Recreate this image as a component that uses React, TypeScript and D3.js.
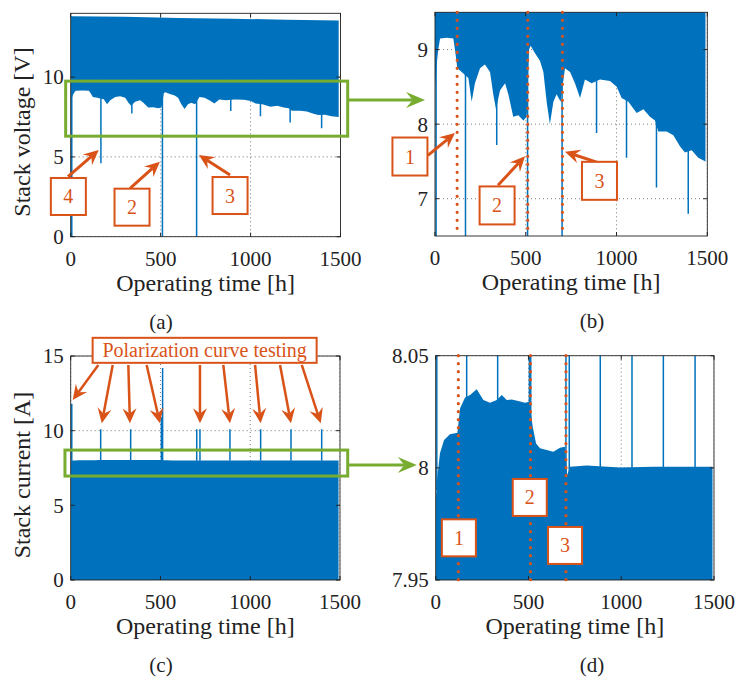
import React, { useRef, useEffect } from "react";
import * as d3 from "d3";

// ---- stack voltage, panels (a) and (b) ----
// lower edge of the dense voltage band [h] / [V]
const voltLowTime = [0, 9, 18, 28, 64, 101, 110, 123, 147, 165, 184, 202, 220, 248, 275, 303, 321, 336, 358, 386,
  404, 431, 459, 487, 505, 518, 527, 551, 578, 597, 615, 633, 652, 670, 692, 716, 744, 771, 799, 826,
  863, 909, 964, 1001, 1028, 1065, 1111, 1148, 1184, 1212, 1230, 1276, 1313, 1350, 1377, 1414, 1450, 1490];
const voltLow = [8.5, 8.79, 9.0, 9.15, 9.16, 9.15, 9.0, 8.75, 8.7, 8.66, 8.62, 8.3, 8.55, 8.75, 8.8, 8.7, 8.4, 8.2, 8.45, 8.55,
  8.4, 8.1, 8.12, 8.05, 8.1, 9.0, 9.05, 8.95, 8.85, 8.7, 8.3, 8.0, 8.3, 8.4, 8.3, 8.75, 8.7, 8.55, 8.35, 8.6,
  8.55, 8.6, 8.58, 8.5, 8.35, 8.3, 8.15, 8.2, 8.1, 8.05, 7.9, 7.9, 7.85, 7.7, 7.62, 7.65, 7.55, 7.5];
// upper edge of the band
const voltHighTime = [0, 300, 600, 900, 1200, 1490];
const voltHigh = [13.82, 13.78, 13.7, 13.66, 13.6, 13.55];
// single downward dips
const voltDipTime = [6, 168, 340, 510, 700, 890, 1055, 1220, 1395];
const voltDip = [0, 4.6, 7.72, 0, 0, 7.88, 7.55, 7.15, 6.8];

// ---- stack current, panels (c) and (d) ----
const currTopTime = [0, 9, 23, 45, 77, 117, 131, 158, 185, 221, 257, 293, 329, 356, 383, 409, 445, 481, 505, 523,
  541, 562, 598, 634, 670, 697, 709, 724, 814, 993, 1173, 1352, 1492];
const currTop = [7.986, 7.996, 8.0065, 8.0124, 8.015, 8.0157, 8.0265, 8.0314, 8.0325, 8.035, 8.0302, 8.029, 8.0302, 8.0325, 8.0302, 8.0305, 8.0298, 8.029, 8.0295, 8.0183,
  8.0109, 8.0087, 8.008, 8.0072, 8.009, 8.0094, 7.9968, 8.0005, 8.001, 8.0002, 8.0005, 8.0005, 8.0005];
// polarization curve peaks
const currPeakTime = [6, 167, 334, 505, 512, 702, 720, 887, 1058, 1227, 1398];
const currPeak = [11.8, 10.1, 10.1, 10.9, 14.2, 10.1, 10.1, 10.1, 10.1, 10.1, 10.1];

// events 1..3 (dotted lines)
const eventTime = [122, 511, 702];
const timeTicks = [0, 500, 1000, 1500];

// ---- annotations, in data units of their panel ----
const boxLabelsA = ["4", "2", "3"];
const boxCentersA = [[-13, 2.52], [341, 1.85], [886, 2.58]];
const arrowsA = [[[-15, 3.76], [156, 5.43]], [[330, 3.03], [496, 4.7]], [[886, 3.87], [713, 5.12]]];
const boxLabelsB = ["1", "2", "3"];
const boxCentersB = [[-138, 7.566], [342, 6.91], [906, 7.24]];
const arrowsB = [[[-39, 7.58], [110, 7.88]], [[347, 7.18], [496, 7.57]], [[903, 7.48], [716, 7.63]]];
const boxLabelsD = ["1", "2", "3"];
const boxCentersD = [[125, 7.9688], [507, 7.9868], [697, 7.9654]];
const polarLabel = "Polarization curve testing";
const polarCenter = [746, 15.38];
const polarStarts = [[154, 14.4], [234, 14.4], [321, 14.4], [423, 14.4], [720, 14.4], [850, 14.4], [1027, 14.4], [1166, 14.4], [1287, 14.4]];
const polarTips = [[11, 12.05], [173, 10.49], [330, 10.49], [497, 10.49], [720, 10.49], [887, 10.49], [1058, 10.49], [1227, 10.49], [1393, 10.49]];
const zoomBoxA = [[-28, 9.75], [1540, 6.3]];
const zoomBoxC = [[-32, 8.7], [1543, 6.96]];

const FONT = "'Liberation Serif', 'Times New Roman', serif";
const BLUE = "#0072BD";
const ORANGE = "#D95319";
const GREEN = "#77AC30";

const frames = {
  a: { left: 70.7, right: 340.5, top: 13.3, bottom: 236.7, yDomain: [0, 14], yTicks: [0, 5, 10], yLabel: "Stack voltage [V]", tag: "(a)" },
  b: { left: 435, right: 707.3, top: 12.3, bottom: 236, yDomain: [6.5, 9.5], yTicks: [7, 8, 9], yLabel: "", tag: "(b)" },
  c: { left: 70.7, right: 340, top: 356, bottom: 580, yDomain: [0, 15], yTicks: [0, 5, 10, 15], yLabel: "Stack current [A]", tag: "(c)" },
  d: { left: 435.7, right: 714, top: 355.7, bottom: 580, yDomain: [7.95, 8.05], yTicks: [7.95, 8, 8.05], yLabel: "", tag: "(d)" },
};

function arrow(g, x1, y1, x2, y2, color, w, len, half) {
  const a = Math.atan2(y2 - y1, x2 - x1);
  const c = Math.cos(a), s = Math.sin(a);
  const notch = len * 0.65;
  g.append("line").attr("x1", x1).attr("y1", y1)
    .attr("x2", x2 - c * notch).attr("y2", y2 - s * notch)
    .attr("stroke", color).attr("stroke-width", w);
  const pt = (along, side) => [x2 - c * along - s * side, y2 - s * along + c * side];
  const pts = [pt(0, 0), pt(len, half), pt(notch, 0), pt(len, -half)];
  g.append("polygon").attr("points", pts.map(p => p.join(",")).join(" ")).attr("fill", color);
}

function labelBox(g, cx, cy, w, h, text, size) {
  g.append("rect").attr("x", cx - w / 2).attr("y", cy - h / 2).attr("width", w).attr("height", h)
    .attr("fill", "white").attr("stroke", ORANGE).attr("stroke-width", 2);
  g.append("text").attr("x", cx).attr("y", cy).attr("text-anchor", "middle").attr("dy", "0.35em")
    .attr("font-family", FONT).attr("font-size", size).attr("fill", ORANGE).text(text);
}

function panel(svg, key) {
  const f = frames[key];
  const x = d3.scaleLinear().domain([0, 1500]).range([f.left, f.right]);
  const y = d3.scaleLinear().domain(f.yDomain).range([f.bottom, f.top]);
  const g = svg.append("g");
  svg.append("clipPath").attr("id", "clip-" + key).append("rect")
    .attr("x", f.left).attr("y", f.top).attr("width", f.right - f.left).attr("height", f.bottom - f.top);
  const plot = g.append("g").attr("clip-path", `url(#clip-${key})`);

  // dotted grid, beneath the data
  plot.selectAll(".gx").data(timeTicks).join("line")
    .attr("x1", d => x(d)).attr("x2", d => x(d)).attr("y1", f.top).attr("y2", f.bottom);
  plot.selectAll(".gy").data(f.yTicks).join("line")
    .attr("x1", f.left).attr("x2", f.right).attr("y1", d => y(d)).attr("y2", d => y(d));
  plot.selectAll("line").attr("stroke", "#555").attr("stroke-width", 0.8).attr("stroke-dasharray", "1 3");
  return { f, x, y, g, plot };
}

function frameUp(p) {
  const { f, x, y, g } = p;
  g.append("rect").attr("x", f.left).attr("y", f.top).attr("width", f.right - f.left).attr("height", f.bottom - f.top)
    .attr("fill", "none").attr("stroke", "#222").attr("stroke-width", 0.9);
  const t = 4;
  timeTicks.forEach(v => {
    g.append("line").attr("x1", x(v)).attr("x2", x(v)).attr("y1", f.bottom).attr("y2", f.bottom - t).attr("stroke", "#222");
    g.append("line").attr("x1", x(v)).attr("x2", x(v)).attr("y1", f.top).attr("y2", f.top + t).attr("stroke", "#222");
    g.append("text").attr("x", x(v)).attr("y", f.bottom + 29).attr("text-anchor", "middle")
      .attr("font-family", FONT).attr("font-size", 21).attr("fill", "#222").text(String(v));
  });
  f.yTicks.forEach(v => {
    g.append("line").attr("x1", f.left).attr("x2", f.left + t).attr("y1", y(v)).attr("y2", y(v)).attr("stroke", "#222");
    g.append("line").attr("x1", f.right).attr("x2", f.right - t).attr("y1", y(v)).attr("y2", y(v)).attr("stroke", "#222");
    g.append("text").attr("x", f.left - 7).attr("y", y(v)).attr("dy", "0.35em").attr("text-anchor", "end")
      .attr("font-family", FONT).attr("font-size", 21).attr("fill", "#222").text(String(v));
  });
  g.append("text").attr("x", (f.left + f.right) / 2).attr("y", f.bottom + 54).attr("text-anchor", "middle")
    .attr("font-family", FONT).attr("font-size", 24).attr("fill", "#222").text("Operating time [h]");
  if (f.yLabel) {
    const cy = (f.top + f.bottom) / 2 + 7;
    g.append("text").attr("transform", `translate(30,${cy}) rotate(-90)`).attr("text-anchor", "middle")
      .attr("font-family", FONT).attr("font-size", 24).attr("fill", "#222").text(f.yLabel);
  }
  g.append("text").attr("x", f.left < 200 ? 161 : 592).attr("y", f.bottom + 92).attr("text-anchor", "middle")
    .attr("font-family", FONT).attr("font-size", 21).attr("fill", "#222").text(f.tag);
}

function drawVoltage(p) {
  const { x, y, plot } = p;
  const band = [
    ...voltHighTime.map((t, i) => [t, voltHigh[i]]),
    ...voltLowTime.map((t, i) => [t, voltLow[i]]).reverse(),
  ];
  plot.append("path").attr("d", d3.line().x(d => x(d[0])).y(d => y(d[1]))(band) + "Z").attr("fill", BLUE);
  plot.selectAll(".dip").data(voltDipTime).join("line")
    .attr("x1", d => x(d)).attr("x2", d => x(d)).attr("y1", y(12)).attr("y2", (d, i) => y(voltDip[i]))
    .attr("stroke", BLUE).attr("stroke-width", 1.5);
}

function drawCurrent(p) {
  const { x, y, plot } = p;
  const pts = currTopTime.map((t, i) => [t, currTop[i]]);
  plot.append("path").attr("d", d3.area().x(d => x(d[0])).y0(y(0)).y1(d => y(d[1]))(pts)).attr("fill", BLUE);
  plot.selectAll(".peak").data(currPeakTime).join("line")
    .attr("x1", d => x(d)).attr("x2", d => x(d)).attr("y1", y(7.99)).attr("y2", (d, i) => y(currPeak[i]))
    .attr("stroke", BLUE).attr("stroke-width", 1.5);
}

function drawEvents(p) {
  const { f, x, g } = p;
  eventTime.forEach(t => {
    g.append("line").attr("x1", x(t)).attr("x2", x(t)).attr("y1", f.top).attr("y2", f.bottom)
      .attr("stroke", ORANGE).attr("stroke-width", 3.2).attr("stroke-linecap", "round").attr("stroke-dasharray", "0 8");
  });
}

function App() {
  const svgRef = useRef(null);

  useEffect(() => {
    const svg = d3.select(svgRef.current);
    svg.selectAll("*").remove();

    const pa = panel(svg, "a");
    drawVoltage(pa);
    frameUp(pa);
    const pb = panel(svg, "b");
    drawVoltage(pb);
    frameUp(pb);
    drawEvents(pb);
    const pc = panel(svg, "c");
    drawCurrent(pc);
    frameUp(pc);
    const pd = panel(svg, "d");
    drawCurrent(pd);
    frameUp(pd);
    drawEvents(pd);

    const ann = svg.append("g");
    // zoom rectangles and green arrows
    [[pa, zoomBoxA], [pc, zoomBoxC]].forEach(([p, bx]) => {
      ann.append("rect").attr("x", p.x(bx[0][0])).attr("y", p.y(bx[0][1]))
        .attr("width", p.x(bx[1][0]) - p.x(bx[0][0])).attr("height", p.y(bx[1][1]) - p.y(bx[0][1]))
        .attr("fill", "none").attr("stroke", GREEN).attr("stroke-width", 3);
    });
    arrow(ann, pa.x(1540), pa.y(8.56), pb.x(-55), pa.y(8.56), GREEN, 3, 19, 8);
    arrow(ann, pc.x(1543), pc.y(7.7), pd.x(-102), pc.y(7.7), GREEN, 3, 19, 8);

    // numbered event boxes
    arrowsA.forEach(([s, e]) => arrow(ann, pa.x(s[0]), pa.y(s[1]), pa.x(e[0]), pa.y(e[1]), ORANGE, 3, 15, 7));
    boxCentersA.forEach((c, i) => labelBox(ann, pa.x(c[0]), pa.y(c[1]), 35, 37, boxLabelsA[i], 20));
    arrowsB.forEach(([s, e]) => arrow(ann, pb.x(s[0]), pb.y(s[1]), pb.x(e[0]), pb.y(e[1]), ORANGE, 3, 15, 7));
    boxCentersB.forEach((c, i) => labelBox(ann, pb.x(c[0]), pb.y(c[1]), 35, 38, boxLabelsB[i], 20));
    boxCentersD.forEach((c, i) => labelBox(ann, pd.x(c[0]), pd.y(c[1]), 34, 37, boxLabelsD[i], 20));

    // polarization curve callout
    polarStarts.forEach((s, i) =>
      arrow(ann, pc.x(s[0]), pc.y(s[1]), pc.x(polarTips[i][0]), pc.y(polarTips[i][1]), ORANGE, 2.5, 15, 7));
    labelBox(ann, pc.x(polarCenter[0]), pc.y(polarCenter[1]), 224, 25, polarLabel, 20);
  }, []);

  return (
    <svg ref={svgRef} width={737} height={677}
      style={{ position: "absolute", left: 0, top: 0, background: "white" }} />
  );
}

export default App;
